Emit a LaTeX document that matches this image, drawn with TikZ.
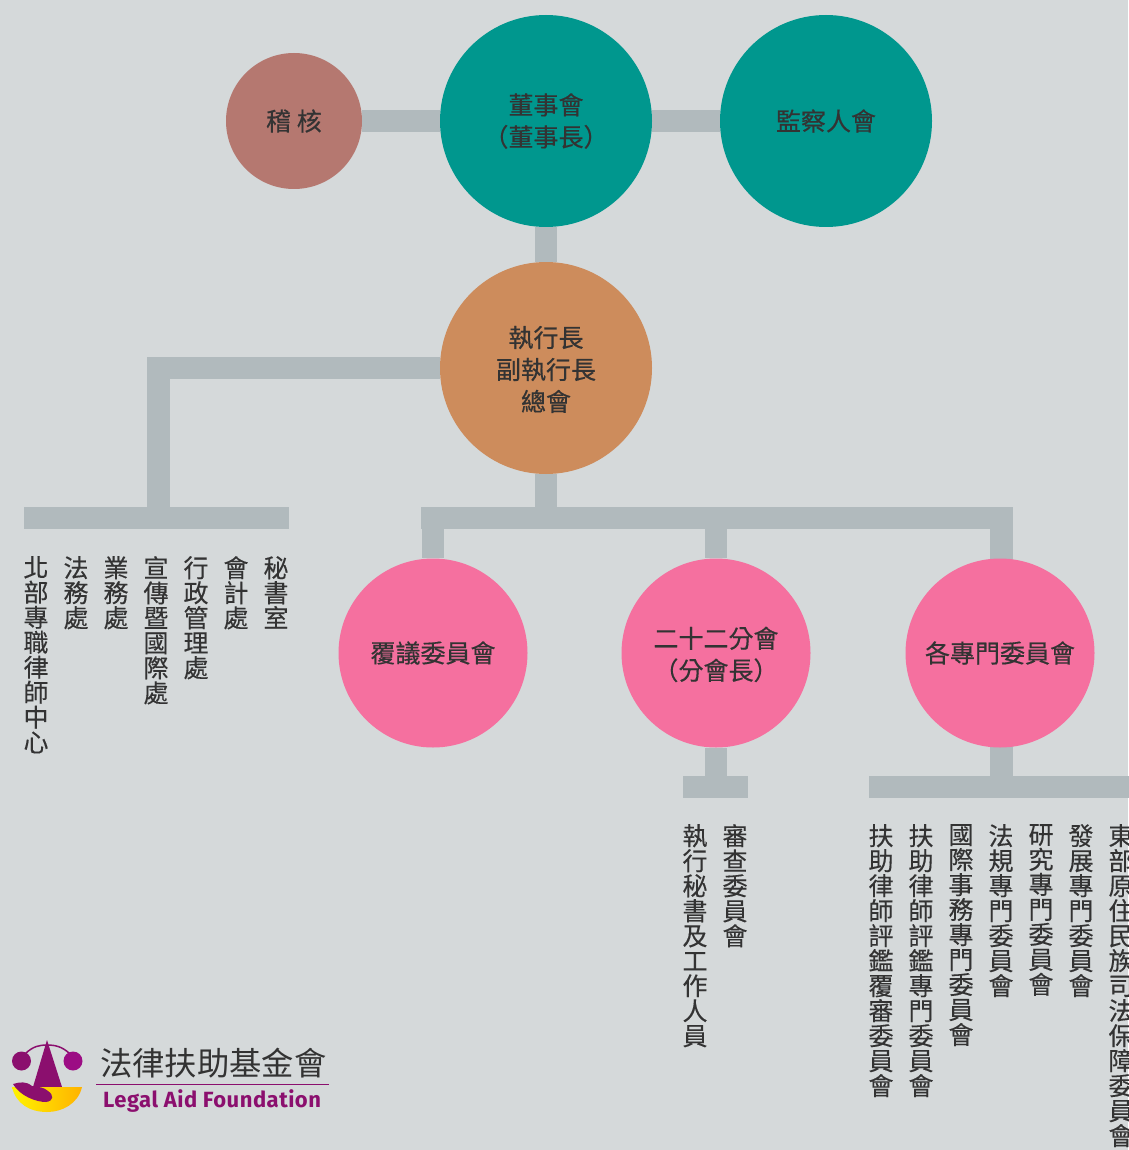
\documentclass[tikz,border=0pt]{standalone}
\usepackage{fontspec}
\usepackage{tikz}
\usetikzlibrary{positioning,backgrounds}
\setmainfont{Noto Sans CJK TC}
\newfontfamily\boldishfont[FakeBold=0.5]{Noto Sans CJK TC}
\newfontfamily\stackfont[FakeBold=0.25]{Noto Sans CJK TC}
\newfontfamily\latinfont[LetterSpace=2.3]{Fira Sans}
\XeTeXlinebreaklocale "zh"
\XeTeXlinebreakskip=0pt plus 1pt
\newcommand{\lowstrut}{\rule{0pt}{24pt}}
\definecolor{pagegray}{HTML}{D5D9DA}
\definecolor{linkgray}{HTML}{B1BABD}
\definecolor{textgray}{HTML}{333333}
\definecolor{auditred}{HTML}{B57870}
\definecolor{boardteal}{HTML}{00978E}
\definecolor{ceoorange}{HTML}{CD8C5C}
\definecolor{unitpink}{HTML}{F5709F}
\definecolor{logopurple}{HTML}{8B0F6E}
\tikzstyle{circlestyle}=[circle,inner sep=0pt,align=center,text=textgray,font=\boldishfont\fontsize{25}{32}\selectfont]
\tikzstyle{auditstyle}=[circlestyle,fill=auditred,minimum size=136pt]
\tikzstyle{boardstyle}=[circlestyle,fill=boardteal,minimum size=212pt]
\tikzstyle{ceostyle}=[circlestyle,fill=ceoorange,minimum size=212pt]
\tikzstyle{unitstyle}=[circlestyle,fill=unitpink,minimum size=189pt]
\tikzstyle{barstyle}=[fill=linkgray,inner sep=0pt,minimum height=22.5pt]
\tikzstyle{linkstyle}=[draw=linkgray,line width=22.5pt]
\tikzstyle{vertstyle}=[anchor=north,inner sep=0pt,text width=25pt,align=center,text=textgray,font=\stackfont\fontsize{25}{25}\selectfont]

\begin{document}
\begin{tikzpicture}[x=1pt,y=-1pt,on grid]
	\useasboundingbox (0,0) rectangle (1128,1150);

	\node[boardstyle]	(chair) at (546,121)	{董事會\\（董事長）};
	\node[auditstyle]	(audit) [left=252pt of chair]	{稽 核};
	\node[boardstyle]	(super) [right=280pt of chair]	{監察人會};
	\node[ceostyle]		(ceo) [below=247pt of chair]	{\lowstrut 執行長\\副執行長\\總會};
	\node[unitstyle]	(review) at (433,653)	{覆議委員會};
	\node[unitstyle]	(branch) [right=283pt of review]	{\lowstrut 二十二分會\\（分會長）};
	\node[unitstyle]	(panel) [right=284pt of branch]	{各專門委員會};

	\node[barstyle,minimum width=265pt]	(officebar) at (156.5,518) {};
	\node[barstyle,minimum width=592pt]	(unitbar) at (717,518) {};
	\node[barstyle,minimum width=65pt]	(branchbar) at (715.5,787) {};
	\node[barstyle,minimum width=300pt]	(panelbar) at (1019,787) {};
	\coordinate (officejoin) at (158.5,518);
	\coordinate (ceojoin) at (ceo |- unitbar);
	\coordinate (reviewjoin) at (review |- unitbar);
	\coordinate (branchjoin) at (branch |- unitbar);
	\coordinate (paneljoin) at (1001.5,518);
	\coordinate (panelmid) at (1001.5,653);
	\coordinate (branchdrop) at (branch |- branchbar);
	\coordinate (paneldrop) at (1001.5,787);

	\begin{pgfonlayer}{background}
		\fill[pagegray] (0,0) rectangle (1128,1150);
		\path[linkstyle] (audit) -- (chair);
		\path[linkstyle] (chair) -- (super);
		\path[linkstyle] (chair) -- (ceo);
		\path[linkstyle] (ceo) -| (officejoin);
		\path[linkstyle] (ceo) -- (ceojoin);
		\path[linkstyle] (reviewjoin) -- (review);
		\path[linkstyle] (branchjoin) -- (branch);
		\path[linkstyle] (paneljoin) -- (panelmid);
		\path[linkstyle] (branch) -- (branchdrop);
		\path[linkstyle] (panelmid) -- (paneldrop);
	\end{pgfonlayer}

	% offices
	\node[vertstyle] (north) at (36,556) {北部專職律師中心};
	\node[vertstyle] (legal) at (76,556) {法務處};
	\node[vertstyle] (ops) at (116,556) {業務處};
	\node[vertstyle] (intl) at (156,556) {宣傳暨國際處};
	\node[vertstyle] (admin) at (196,556) {行政管理處};
	\node[vertstyle] (acct) at (236,556) {會計處};
	\node[vertstyle] (secr) at (276,556) {秘書室};

	% branches
	\node[vertstyle] (staff) at (695,824) {執行秘書及工作人員};
	\node[vertstyle] (audcom) at (735,824) {審查委員會};

	% committees
	\node[vertstyle] (evalre) at (881,824) {扶助律師評鑑覆審委員會};
	\node[vertstyle] (evalcom) at (921,824) {扶助律師評鑑專門委員會};
	\node[vertstyle] (intlcom) at (961,824) {國際事務專門委員會};
	\node[vertstyle] (lawcom) at (1001,824) {法規專門委員會};
	\node[vertstyle] (rescom) at (1041,824) {研究專門委員會};
	\node[vertstyle] (devcom) at (1081,824) {發展專門委員會};
	\node[vertstyle] (eastcom) at (1121,824) {東部原住民族司法保障委員會};

	% logo
	\fill[logopurple] (47,1040) -- (33,1087) -- (62,1087) -- cycle;
	\draw[logopurple,line width=1.5pt] (25,1054) .. controls (33,1046) and (40,1045) .. (47,1045) .. controls (54,1045) and (62,1046) .. (70,1054);
	\fill[logopurple] (21.5,1061) circle (9.5);
	\fill[logopurple!85!magenta] (73,1061) circle (9.5);
	\shade[left color=yellow!90!orange,right color=orange!60!yellow] (12,1087) -- (82,1087) .. controls (78,1104) and (62,1112) .. (47,1112) .. controls (30,1112) and (16,1104) .. (12,1087) -- cycle;
	\fill[logopurple] (13,1084) .. controls (20,1082) and (26,1081) .. (32,1086) .. controls (38,1087) and (44,1087) .. (48,1091) .. controls (54,1095) and (54,1101) .. (46,1102) .. controls (36,1102) and (20,1096) .. (13,1084) -- cycle;
	\node[inner sep=0pt,anchor=west,text=textgray,font=\fontsize{32.3}{32.3}\selectfont] (logozh) at (100,1063) {法律扶助基金會};
	\coordinate (rulestart) at (96,1084);
	\coordinate (ruleend) at (329,1084);
	\draw[logopurple,line width=1pt] (rulestart) -- (ruleend);
	\node[inner sep=0pt,anchor=west,text=logopurple,font=\latinfont\bfseries\fontsize{22}{22}\selectfont] (logoen) at (103,1101) {Legal Aid Foundation};
\end{tikzpicture}
\end{document}
